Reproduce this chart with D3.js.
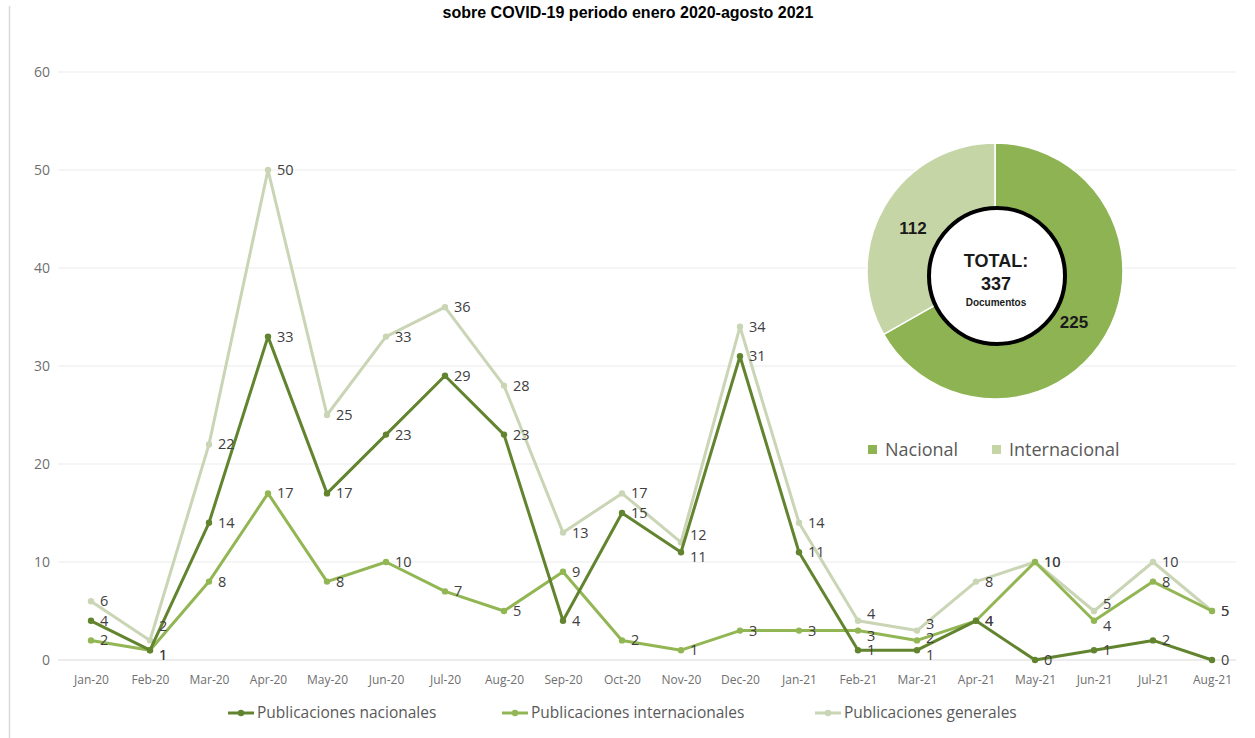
<!DOCTYPE html>
<html>
<head>
<meta charset="utf-8">
<script src="https://cdn.jsdelivr.net/npm/d3@7"></script>
<style>
  body { margin: 0; background: #fff; }
  svg { display: block; }
  .tick text { fill: #6f6f6f; }
</style>
</head>
<body>
<svg class="chart"></svg>
<script>
var months = ["Jan-20","Feb-20","Mar-20","Apr-20","May-20","Jun-20","Jul-20","Aug-20","Sep-20","Oct-20",
  "Nov-20","Dec-20","Jan-21","Feb-21","Mar-21","Apr-21","May-21","Jun-21","Jul-21","Aug-21"];
var nacionales = [4,1,14,33,17,23,29,23,4,15,11,31,11,1,1,4,0,1,2,0];
var internacionales = [2,1,8,17,8,10,7,5,9,2,1,3,3,3,2,4,10,4,8,5];
var generales = [6,2,22,50,25,33,36,28,13,17,12,34,14,4,3,8,10,5,10,5];
var yTicks = [0,10,20,30,40,50,60];

var donutLabels = ["Nacional","Internacional"];
var donutValues = [225,112];

var width = 1255, height = 738;
var chart = d3.select(".chart").attr("width", width).attr("height", height);

var x = d3.scalePoint().domain(months).range([91, 1212]);
var y = d3.scaleLinear().domain([0, 60]).range([660, 72]);

// left border
chart.append("line").attr("x1", 9.5).attr("x2", 9.5).attr("y1", 6).attr("y2", 738)
  .attr("stroke", "#d9d9d9").attr("stroke-width", 1.5);

// title
chart.append("text").attr("x", 628).attr("y", 18).attr("text-anchor", "middle")
  .attr("font-family", "Liberation Sans, Arial, sans-serif").attr("font-weight", "bold")
  .attr("font-size", 16).attr("fill", "#000")
  .text("sobre COVID-19 periodo enero 2020-agosto 2021");

// gridlines
chart.append("g").selectAll("line").data(yTicks).enter().append("line")
  .attr("x1", 58).attr("x2", 1236)
  .attr("y1", function(d) { return y(d); }).attr("y2", function(d) { return y(d); })
  .attr("stroke", function(d) { return d === 0 ? "#d9d9d9" : "#ebebeb"; })
  .attr("stroke-width", 1.2);

// y axis
var yAxis = chart.append("g").attr("transform", "translate(50,0)")
  .call(d3.axisLeft(y).tickValues(yTicks).tickSize(0).tickPadding(0));
yAxis.select(".domain").remove();
yAxis.selectAll("text").attr("font-family", "Open Sans, sans-serif").attr("font-size", 14);

// x axis
var xAxis = chart.append("g").attr("transform", "translate(0,675)")
  .call(d3.axisBottom(x).tickSize(0).tickPadding(0));
xAxis.select(".domain").remove();
xAxis.selectAll("text").attr("font-family", "Open Sans, sans-serif").attr("font-size", 12)
  .attr("dy", "0.71em");

var series = [
  { name: "Publicaciones generales", values: generales, color: "#c9d5b4" },
  { name: "Publicaciones internacionales", values: internacionales, color: "#93b654" },
  { name: "Publicaciones nacionales", values: nacionales, color: "#62842f" }
];

var line = d3.line()
  .x(function(d, i) { return x(months[i]); })
  .y(function(d) { return y(d); });

series.forEach(function(s) {
  chart.append("path").datum(s.values)
    .attr("d", line).attr("fill", "none")
    .attr("stroke", s.color).attr("stroke-width", 3)
    .attr("stroke-linejoin", "round");
  chart.append("g").selectAll("circle").data(s.values).enter().append("circle")
    .attr("cx", function(d, i) { return x(months[i]); })
    .attr("cy", function(d) { return y(d); })
    .attr("r", 3.2).attr("fill", s.color);
});

// nudge labels that sit close to another series' label in the same month
function labelShift(s, v, i) {
  var shift = 0;
  series.forEach(function(o) {
    if (o === s) return;
    var ov = o.values[i];
    if (ov !== v && Math.abs(ov - v) <= 1.2) shift += ov > v ? 5 : -7;
  });
  return shift;
}

series.forEach(function(s) {
  chart.append("g").selectAll("text").data(s.values).enter().append("text")
    .attr("x", function(d, i) { return x(months[i]) + 9; })
    .attr("y", function(d, i) { return y(d) + labelShift(s, d, i); })
    .attr("dy", "0.35em")
    .attr("font-family", "Open Sans, sans-serif").attr("font-size", 14.5)
    .attr("fill", "#404040")
    .text(function(d) { return d; });
});

// series legend
var legendItems = [
  { name: "Publicaciones nacionales", color: "#62842f", x: 228 },
  { name: "Publicaciones internacionales", color: "#93b654", x: 502 },
  { name: "Publicaciones generales", color: "#c9d5b4", x: 815 }
];
var leg = chart.append("g").selectAll("g").data(legendItems).enter().append("g")
  .attr("transform", function(d) { return "translate(" + d.x + ",713)"; });
leg.append("line").attr("x1", 0).attr("x2", 26).attr("y1", 0).attr("y2", 0)
  .attr("stroke", function(d) { return d.color; }).attr("stroke-width", 3);
leg.append("circle").attr("cx", 13).attr("cy", 0).attr("r", 3.2)
  .attr("fill", function(d) { return d.color; });
leg.append("text").attr("x", 29).attr("y", 0).attr("dy", "0.35em")
  .attr("font-family", "Open Sans, sans-serif").attr("font-size", 15.5)
  .attr("fill", "#595959")
  .text(function(d) { return d.name; });

// donut
var donutColors = d3.scaleOrdinal().domain(donutLabels).range(["#8db352", "#c5d5a6"]);
var pie = d3.pie().sort(null);
var arcs = pie(donutValues);
var arc = d3.arc().innerRadius(60).outerRadius(128);
var donut = chart.append("g").attr("transform", "translate(995,271)");
donut.selectAll("path").data(arcs).enter().append("path")
  .attr("d", arc)
  .attr("fill", function(d, i) { return donutColors(donutLabels[i]); })
  .attr("stroke", "#fff").attr("stroke-width", 1.5);

chart.append("circle").attr("cx", 997).attr("cy", 276).attr("r", 68)
  .attr("fill", "#fff").attr("stroke", "#000").attr("stroke-width", 4);

chart.append("text").attr("x", 913).attr("y", 228).attr("text-anchor", "middle")
  .attr("dy", "0.35em").attr("font-family", "Liberation Sans, Arial, sans-serif")
  .attr("font-weight", "bold").attr("font-size", 17).attr("fill", "#1a1a1a")
  .text(donutValues[1]);
chart.append("text").attr("x", 1074).attr("y", 322).attr("text-anchor", "middle")
  .attr("dy", "0.35em").attr("font-family", "Liberation Sans, Arial, sans-serif")
  .attr("font-weight", "bold").attr("font-size", 17).attr("fill", "#1a1a1a")
  .text(donutValues[0]);

var total = d3.sum(donutValues);
var centerText = chart.append("g").attr("font-family", "Liberation Sans, Arial, sans-serif")
  .attr("font-weight", "bold").attr("text-anchor", "middle").attr("fill", "#1a1a1a");
centerText.append("text").attr("x", 996).attr("y", 267).attr("font-size", 18).text("TOTAL:");
centerText.append("text").attr("x", 996).attr("y", 290).attr("font-size", 18).text(total);
centerText.append("text").attr("x", 996).attr("y", 306).attr("font-size", 10).text("Documentos");

// donut legend
var dleg = chart.append("g").selectAll("g").data(donutLabels).enter().append("g")
  .attr("transform", function(d, i) { return "translate(" + (i === 0 ? 868 : 992) + ",450)"; });
dleg.append("rect").attr("x", 0).attr("y", -5).attr("width", 9).attr("height", 9)
  .attr("fill", function(d) { return donutColors(d); });
dleg.append("text").attr("x", 17).attr("y", 0).attr("dy", "0.35em")
  .attr("font-family", "Open Sans, sans-serif").attr("font-size", 18).attr("fill", "#595959")
  .text(function(d) { return d; });
</script>
</body>
</html>
